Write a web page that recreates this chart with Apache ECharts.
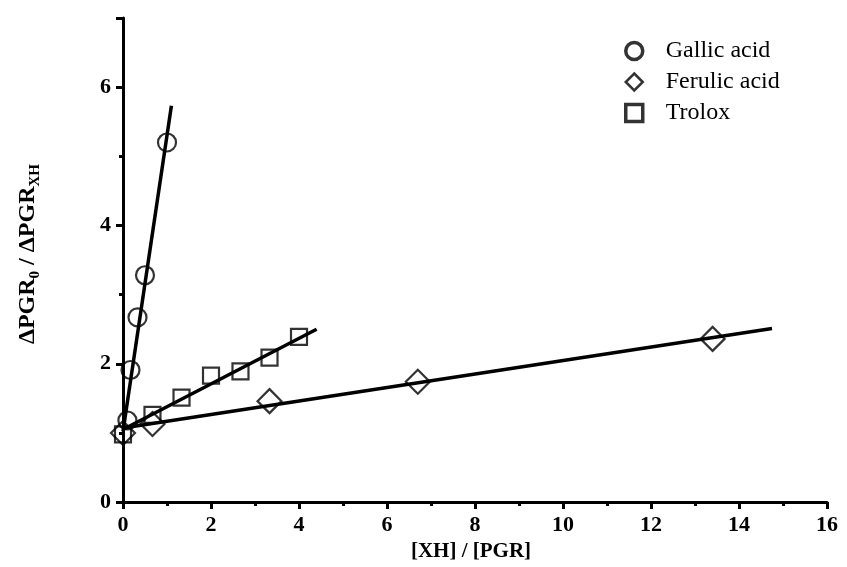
<!DOCTYPE html>
<html><head><meta charset="utf-8">
<script src="https://cdn.jsdelivr.net/npm/echarts@6/dist/echarts.min.js"></script>
<style>html,body{margin:0;padding:0;background:#fff}#c{width:847px;height:567px}</style>
</head><body><div id="c"></div>
<script>
// Measured points
const gallicX = [0.1, 0.17, 0.33, 0.5, 1.0];
const gallicY = [1.18, 1.91, 2.67, 3.28, 5.2];
const ferulicX = [0.0, 0.67, 3.33, 6.7, 13.4];
const ferulicY = [1.0, 1.13, 1.46, 1.74, 2.36];
const troloxX = [0.0, 0.67, 1.33, 2.0, 2.67, 3.33, 4.0];
const troloxY = [0.98, 1.26, 1.51, 1.83, 1.89, 2.09, 2.39];
// Fitted lines (endpoints)
const gallicFitX = [0, 1.1];
const gallicFitY = [1.02, 5.73];
const ferulicFitX = [0, 14.75];
const ferulicFitY = [1.07, 2.51];
const troloxFitX = [0, 4.4];
const troloxFitY = [1.05, 2.5];
const xTicks = [0, 2, 4, 6, 8, 10, 12, 14, 16];
const yTicks = [0, 2, 4, 6];

const zip = (a, b) => a.map((v, i) => [v, b[i]]);
const serif = '"Liberation Serif","Times New Roman",serif';
const chart = echarts.init(document.getElementById('c'));
const markerStyle = {color: 'rgba(0,0,0,0)', borderColor: '#000', borderWidth: 2.2};
const fit = (x, y) => ({type: 'line', data: zip(x, y), symbol: 'none', silent: true,
  lineStyle: {color: '#000', width: 3.5}, z: 1});
const axisCommon = {
  axisLine: {show: true, onZero: false, lineStyle: {color: '#000', width: 3}},
  axisTick: {show: true, inside: false, length: 7, lineStyle: {color: '#000', width: 3}},
  minorTick: {show: true, splitNumber: 2, length: 4, lineStyle: {color: '#000', width: 3}},
  splitLine: {show: false},
  axisLabel: {color: '#000', fontFamily: serif, fontWeight: 'bold', fontSize: 22}
};
chart.setOption({
  animation: false,
  grid: {left: 123, right: 20, top: 18, bottom: 49, containLabel: false},
  legend: {
    left: 619, top: 34, orient: 'vertical', itemGap: 7, itemWidth: 17, itemHeight: 17,
    textStyle: {fontFamily: serif, fontSize: 24, lineHeight: 24, color: '#000', padding: [0, 0, 0, 18]},
    data: [
      {name: 'Gallic acid', itemStyle: {borderWidth: 3.5}},
      {name: 'Ferulic acid', itemStyle: {borderWidth: 2.5}},
      {name: 'Trolox', itemStyle: {borderWidth: 3.5}}
    ]
  },
  xAxis: Object.assign({}, axisCommon, {
    type: 'value', min: 0, max: 16, interval: 2,
    name: '[XH] / [PGR]', nameLocation: 'middle', nameGap: 30,
    nameTextStyle: {color: '#000', fontFamily: serif, fontWeight: 'bold', fontSize: 21, padding: [0, 8, 0, 0]},
    axisLabel: Object.assign({}, axisCommon.axisLabel, {margin: 12,
      formatter: v => xTicks.includes(v) ? String(v) : ''})
  }),
  yAxis: Object.assign({}, axisCommon, {
    type: 'value', min: 0, max: 7, interval: 2,
    name: '{b|ΔPGR}{s|0}{b| / ΔPGR}{s|XH}', nameLocation: 'middle', nameGap: 80, nameRotate: 90,
    nameTextStyle: {color: '#000', padding: [0, 0, 0, 12], rich: {
      b: {fontFamily: serif, fontWeight: 'bold', fontSize: 24, lineHeight: 30, color: '#000'},
      s: {fontFamily: serif, fontWeight: 'bold', fontSize: 15, lineHeight: 15, verticalAlign: 'bottom', color: '#000'}
    }},
    axisLabel: Object.assign({}, axisCommon.axisLabel, {margin: 12,
      formatter: v => yTicks.includes(v) ? String(v) : ''})
  }),
  series: [
    fit(gallicFitX, gallicFitY), fit(ferulicFitX, ferulicFitY), fit(troloxFitX, troloxFitY),
    {name: 'Gallic acid', type: 'scatter', symbol: 'circle', symbolSize: 18, data: zip(gallicX, gallicY), itemStyle: markerStyle, z: 3},
    {name: 'Ferulic acid', type: 'scatter', symbol: 'diamond', symbolSize: [24, 24], data: zip(ferulicX, ferulicY), itemStyle: markerStyle, z: 3},
    {name: 'Trolox', type: 'scatter', symbol: 'rect', symbolSize: 16, data: zip(troloxX, troloxY), itemStyle: markerStyle, z: 3}
  ]
});
</script></body></html>
